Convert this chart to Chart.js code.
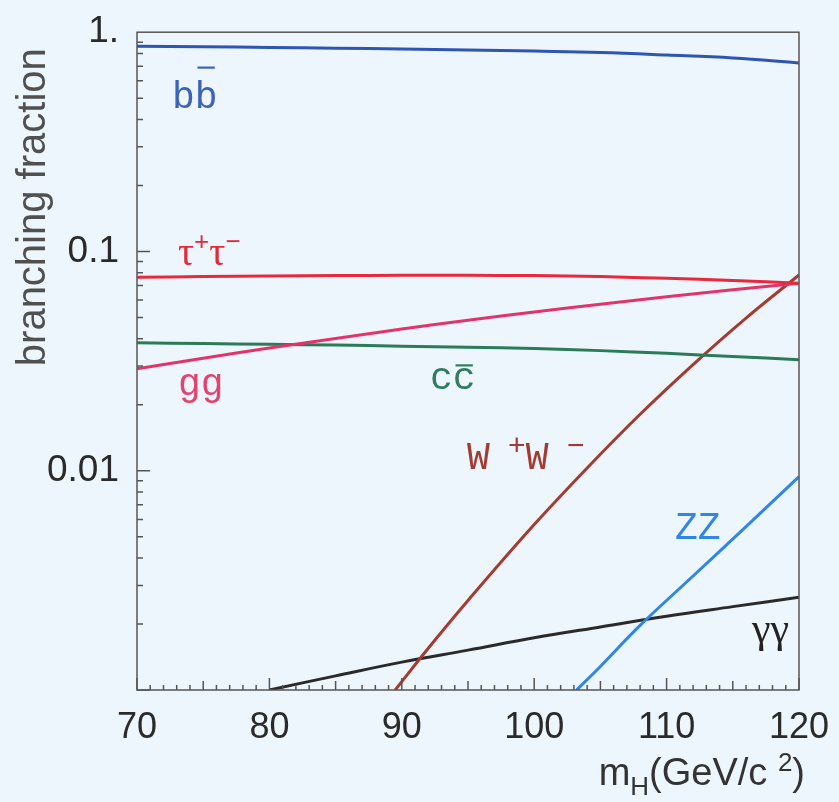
<!DOCTYPE html>
<html>
<head>
<meta charset="utf-8">
<script src="https://cdn.jsdelivr.net/npm/chart.js@4/dist/chart.umd.min.js"></script>
<style>
  html, body { margin: 0; padding: 0; background: #edf6fc; }
  canvas { display: block; }
</style>
</head>
<body>
<canvas id="c" width="839" height="802"></canvas>
<script>
// ---- data ----
const mass        = [70, 75, 80, 85, 90, 95, 100, 105, 110, 115, 120];
const bbFrac      = [0.862, 0.858, 0.852, 0.845, 0.838, 0.830, 0.820, 0.808, 0.787, 0.763, 0.724];
const tautauFrac  = [0.0762, 0.0768, 0.0773, 0.0776, 0.0778, 0.0778, 0.0776, 0.0768, 0.0754, 0.0737, 0.0716];
const ggFrac      = [0.0292, 0.0326, 0.0363, 0.0401, 0.0443, 0.0486, 0.0529, 0.0575, 0.0621, 0.0669, 0.0716];
const ccFrac      = [0.0383, 0.0380, 0.0377, 0.0374, 0.0370, 0.0366, 0.0361, 0.0353, 0.0343, 0.0332, 0.0321];
const wwMass      = [89.5, 92, 95, 100, 104, 108, 112, 116, 120];
const wwFrac      = [0.0010, 0.00155, 0.00256, 0.00568, 0.0103, 0.0181, 0.0305, 0.0497, 0.0781];
const zzMass      = [103.2, 105, 108, 112, 116, 120];
const zzFrac      = [0.0010, 0.00128, 0.00197, 0.00331, 0.00556, 0.0094];
const gamMass     = [80, 85, 90, 95, 100, 105, 110, 115, 120];
const gamFrac     = [0.0010, 0.00116, 0.00134, 0.00152, 0.00173, 0.00194, 0.00217, 0.00240, 0.00265];

const xTickValues = [70, 80, 90, 100, 110, 120];
const xTickLabels = ['70', '80', '90', '100', '110', '120'];
const yTickValues = [0.001, 0.01, 0.1, 1];
const yTickLabels = ['', '0.01', '0.1', '1.'];

// curve label anchors (data coordinates: mass, fraction)
const curveLabels = [
  { id: 'bb',  m: 72.64, v: 0.453,  color: '#3d63b8' },
  { id: 'tau', m: 73.1,  v: 0.0865, color: '#e3283a' },
  { id: 'gg',  m: 73.1,  v: 0.0221, color: '#e2446f' },
  { id: 'cc',  m: 92.13, v: 0.0235, color: '#2f7d5e' },
  { id: 'ww',  m: 94.92, v: 0.0102, color: '#a23b33' },
  { id: 'zz',  m: 110.63, v: 0.00487, color: '#2f86e6' },
  { id: 'gam', m: 116.45, v: 0.00165, color: '#222222' }
];

const pts = (xs, ys) => xs.map((x, i) => ({ x: x, y: ys[i] }));

function ds(label, xs, ys, color) {
  return {
    label: label, data: pts(xs, ys), borderColor: color, backgroundColor: color,
    borderWidth: 3, pointRadius: 0, fill: false, tension: 0.4
  };
}

const MONO = '"Liberation Mono", monospace';
const SANS = '"Liberation Sans", Arial, sans-serif';
const SERIF = '"Liberation Serif", serif';

function drawRich(ctx, x, y, segs, color) {
  ctx.fillStyle = color; ctx.strokeStyle = color;
  ctx.textBaseline = 'alphabetic'; ctx.textAlign = 'left';
  for (const s of segs) {
    ctx.font = s.font;
    const w = ctx.measureText(s.t).width;
    ctx.fillText(s.t, x, y + (s.dy || 0));
    if (s.bar) {
      ctx.lineWidth = 2.2;
      ctx.beginPath();
      ctx.moveTo(x + w * 0.12, y - s.bar);
      ctx.lineTo(x + w * 0.88, y - s.bar);
      ctx.stroke();
    }
    x += w;
  }
}

const decor = {
  id: 'decor',
  afterDatasetsDraw(chart) {
    const ctx = chart.ctx, a = chart.chartArea;
    const xs = chart.scales.x, ys = chart.scales.y;
    ctx.save();
    // frame
    ctx.strokeStyle = '#555'; ctx.lineWidth = 1.5;
    ctx.strokeRect(a.left, a.top, a.right - a.left, a.bottom - a.top);
    // inward x ticks
    ctx.beginPath();
    for (let m = 70; m <= 120; m++) {
      const px = xs.getPixelForValue(m);
      const len = (m % 10 === 0) ? 12 : (m % 5 === 0 ? 9 : 5);
      ctx.moveTo(px, a.bottom); ctx.lineTo(px, a.bottom - len);
    }
    // inward y ticks
    for (const d of [0.001, 0.01, 0.1]) {
      for (let k = 1; k <= 9; k++) {
        const py = ys.getPixelForValue(k * d);
        const len = k === 1 ? 13 : 6;
        ctx.moveTo(a.left, py); ctx.lineTo(a.left + len, py);
      }
    }
    ctx.stroke();

    // curve labels
    for (const L of curveLabels) {
      const x = xs.getPixelForValue(L.m), y = ys.getPixelForValue(L.v);
      let segs;
      if (L.id === 'bb') segs = [{ t: 'b', font: '38px ' + MONO }, { t: 'b', font: '38px ' + MONO, bar: 40 }];
      else if (L.id === 'tau') segs = [
        { t: 'τ', font: '40px ' + SERIF }, { t: '+', font: '26px ' + SANS, dy: -15 },
        { t: 'τ', font: '40px ' + SERIF }, { t: '−', font: '26px ' + SANS, dy: -15 }];
      else if (L.id === 'gg') segs = [{ t: 'gg', font: '38px ' + MONO }];
      else if (L.id === 'cc') segs = [{ t: 'c', font: '38px ' + MONO }, { t: 'c', font: '38px ' + MONO, bar: 24 }];
      else if (L.id === 'ww') segs = [
        { t: 'W', font: '38px ' + MONO }, { t: ' +', font: '30px ' + MONO, dy: -14 },
        { t: 'W', font: '38px ' + MONO }, { t: ' −', font: '30px ' + MONO, dy: -14 }];
      else if (L.id === 'zz') segs = [{ t: 'ZZ', font: '38px ' + MONO }];
      else segs = [{ t: 'γγ', font: '42px ' + SERIF }];
      drawRich(ctx, x, y, segs, L.color);
    }

    // axis titles
    ctx.fillStyle = '#505050';
    ctx.save();
    ctx.translate(a.left - 92, a.top + 175);
    ctx.rotate(-Math.PI / 2);
    ctx.font = '40px ' + SANS; ctx.textAlign = 'center'; ctx.textBaseline = 'alphabetic';
    ctx.fillText('branching fraction', 0, 0);
    ctx.restore();

    // x title: m_H(GeV/c^2) right-aligned
    const segsX = [
      { t: 'm', font: '38px ' + SANS }, { t: 'H', font: '26px ' + SANS, dy: 10 },
      { t: '(GeV/c ', font: '38px ' + SANS }, { t: '2', font: '26px ' + SANS, dy: -14 },
      { t: ')', font: '38px ' + SANS }];
    let total = 0;
    for (const s of segsX) { ctx.font = s.font; total += ctx.measureText(s.t).width; }
    drawRich(ctx, a.right + 6 - total, a.bottom + 95, segsX, '#333');
    ctx.restore();
  }
};

new Chart(document.getElementById('c'), {
  type: 'line',
  data: {
    datasets: [
      ds('bb', mass, bbFrac, '#2f55b3'),
      ds('tautau', mass, tautauFrac, '#e8283c'),
      ds('gg', mass, ggFrac, '#e2346a'),
      ds('cc', mass, ccFrac, '#2b7a58'),
      ds('WW', wwMass, wwFrac, '#a43a30'),
      ds('ZZ', zzMass, zzFrac, '#2f86e6'),
      ds('gammagamma', gamMass, gamFrac, '#2a2a2a')
    ]
  },
  options: {
    responsive: false,
    animation: false,
    layout: { padding: { top: 27, right: 40, left: 0, bottom: 0 } },
    plugins: { legend: { display: false }, tooltip: { enabled: false } },
    scales: {
      x: {
        type: 'linear', min: 70, max: 120,
        afterBuildTicks: s => { s.ticks = xTickValues.map(v => ({ value: v })); },
        afterFit: s => { s.height = 112; },
        grid: { display: false },
        border: { display: false },
        ticks: {
          color: '#2a2a2a', font: { family: SANS, size: 36 }, padding: 8, maxRotation: 0,
          callback: (v, i) => xTickLabels[i]
        }
      },
      y: {
        type: 'logarithmic', min: 0.001, max: 1,
        afterBuildTicks: s => { s.ticks = yTickValues.map(v => ({ value: v })); },
        afterFit: s => { s.width = 137; },
        grid: { display: false },
        border: { display: false },
        ticks: {
          color: '#2a2a2a', font: { family: SANS, size: 37 }, padding: 10,
          callback: (v, i) => yTickLabels[i]
        }
      }
    }
  },
  plugins: [decor]
});
</script>
</body>
</html>
